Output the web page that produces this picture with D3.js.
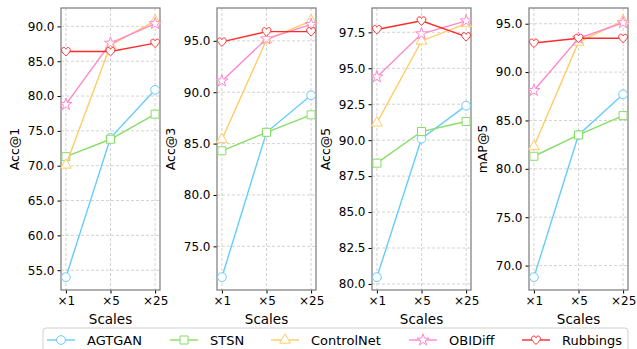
<!DOCTYPE html>
<html>
<head>
<meta charset="utf-8">
<script src="https://cdn.jsdelivr.net/npm/d3@7"></script>
<style>
  body { margin: 0; background: #fff; }
  svg { font-family: "DejaVu Sans", sans-serif; }
</style>
</head>
<body>
<svg id="chart" width="637" height="349"></svg>
<script>
// data
const scales = ['×1', '×5', '×25']
const methods = ['AGTGAN', 'STSN', 'ControlNet', 'OBIDiff', 'Rubbings']
const colors = ['#66ccff', '#88dd66', '#ffcc66', '#ff88cc', '#ff2a2a']

const metrics = ['Acc@1', 'Acc@3', 'Acc@5', 'mAP@5']

const acc1 = [
  [54.0, 74.0, 80.9],
  [71.3, 73.8, 77.4],
  [70.1, 87.3, 90.8],
  [78.8, 87.6, 90.4],
  [86.4, 86.4, 87.6]
]
const acc3 = [
  [72.0, 86.1, 89.7],
  [84.3, 86.1, 87.8],
  [85.4, 95.1, 96.95],
  [91.1, 95.2, 96.6],
  [94.9, 95.9, 95.9]
]
const acc5 = [
  [80.47, 90.1, 92.4],
  [88.4, 90.6, 91.3],
  [91.2, 96.9, 98.1],
  [94.4, 97.4, 98.3],
  [97.7, 98.3, 97.2]
]
const map5 = [
  [68.8, 83.5, 87.7],
  [81.3, 83.5, 85.5],
  [82.3, 93.1, 95.3],
  [88.1, 93.5, 95.1],
  [93.0, 93.5, 93.5]
]
const panelData = [acc1, acc3, acc5, map5]

const yTicks = [
  [55, 60, 65, 70, 75, 80, 85, 90],
  [75, 80, 85, 90, 95],
  [80, 82.5, 85, 87.5, 90, 92.5, 95, 97.5],
  [70, 75, 80, 85, 90, 95]
]

// layout
const panelLefts = [61, 217, 372, 529]
const panelW = 99
const plotTop = 8
const plotBottom = 290

const heart = {
  draw (ctx, size) {
    const r = Math.sqrt(size) / 2
    ctx.moveTo(0, r * 1.0)
    ctx.bezierCurveTo(-r * 0.4, r * 0.6, -r * 1.1, r * 0.1, -r * 1.0, -r * 0.4)
    ctx.bezierCurveTo(-r * 0.9, -r * 1.0, -r * 0.2, -r * 1.1, 0, -r * 0.5)
    ctx.bezierCurveTo(r * 0.2, -r * 1.1, r * 0.9, -r * 1.0, r * 1.0, -r * 0.4)
    ctx.bezierCurveTo(r * 1.1, r * 0.1, r * 0.4, r * 0.6, 0, r * 1.0)
    ctx.closePath()
  }
}
const symbols = [
  d3.symbol(d3.symbolCircle, 60),
  d3.symbol(d3.symbolSquare, 64),
  d3.symbol(d3.symbolTriangle, 50),
  d3.symbol(d3.symbolStar, 44),
  d3.symbol(heart, 78)
]

const svg = d3.select('#chart')

panelData.forEach((series, p) => {
  const left = panelLefts[p]
  const x = d3.scaleLinear().domain([-0.11, 2.11]).range([left, left + panelW])

  const all = series.flat()
  const lo = d3.min(all)
  const hi = d3.max(all)
  const pad = (hi - lo) * 0.05
  const y = d3.scaleLinear().domain([lo - pad, hi + pad]).range([plotBottom, plotTop])

  const g = svg.append('g')

  // grid
  g.append('g')
    .selectAll('line')
    .data([0, 1, 2])
    .join('line')
    .attr('x1', d => x(d)).attr('x2', d => x(d))
    .attr('y1', plotTop).attr('y2', plotBottom)
    .attr('stroke', '#c8c8c8').attr('stroke-width', 0.8)
    .attr('stroke-dasharray', '3,2')
  g.append('g')
    .selectAll('line')
    .data(yTicks[p])
    .join('line')
    .attr('x1', left).attr('x2', left + panelW)
    .attr('y1', d => y(d)).attr('y2', d => y(d))
    .attr('stroke', '#c8c8c8').attr('stroke-width', 0.8)
    .attr('stroke-dasharray', '3,2')

  // axes
  const xAxis = d3.axisBottom(x)
    .tickValues([0, 1, 2])
    .tickFormat(i => scales[i])
    .tickSize(3.5)
    .tickPadding(3)
  const ax = g.append('g').attr('transform', `translate(0,${plotBottom})`).call(xAxis)
  ax.select('.domain').remove()
  ax.selectAll('text').attr('font-size', 12).attr('fill', '#000').attr('font-family', 'DejaVu Sans')

  const yAxis = d3.axisLeft(y)
    .tickValues(yTicks[p])
    .tickFormat(d3.format('.1f'))
    .tickSize(3.5)
    .tickPadding(3)
  const ay = g.append('g').attr('transform', `translate(${left},0)`).call(yAxis)
  ay.select('.domain').remove()
  ay.selectAll('text').attr('font-size', 12).attr('fill', '#000').attr('font-family', 'DejaVu Sans')

  // frame
  g.append('rect')
    .attr('x', left).attr('y', plotTop)
    .attr('width', panelW).attr('height', plotBottom - plotTop)
    .attr('fill', 'none').attr('stroke', '#7a7a7a').attr('stroke-width', 1.2)

  // labels
  g.append('text')
    .attr('transform', `translate(${left - 47},${(plotTop + plotBottom) / 2}) rotate(-90)`)
    .attr('text-anchor', 'middle')
    .attr('dominant-baseline', 'central')
    .attr('font-size', 12.5)
    .text(metrics[p])
  g.append('text')
    .attr('x', left + panelW / 2).attr('y', 319)
    .attr('text-anchor', 'middle')
    .attr('dominant-baseline', 'central')
    .attr('font-size', 13.5)
    .text('Scales')

  // series
  const line = d3.line().x((d, i) => x(i)).y(d => y(d))
  series.forEach((vals, k) => {
    const sg = g.append('g')
    sg.append('path')
      .attr('d', line(vals))
      .attr('fill', 'none')
      .attr('stroke', colors[k])
      .attr('stroke-width', 1.4)
    sg.selectAll('path.m')
      .data(vals)
      .join('path')
      .attr('class', 'm')
      .attr('transform', (d, i) => `translate(${x(i)},${y(d)})`)
      .attr('d', symbols[k]())
      .attr('fill', '#fff')
      .attr('stroke', colors[k])
      .attr('stroke-width', 1)
  })
})

// legend
const legendItems = [47, 170, 271, 409, 522]
const lg = svg.append('g')
lg.append('rect')
  .attr('x', 43).attr('y', 328)
  .attr('width', 585).attr('height', 30)
  .attr('rx', 3)
  .attr('fill', '#fff')
  .attr('stroke', '#d0d0d0')
  .attr('stroke-width', 1)

methods.forEach((name, k) => {
  const lx = legendItems[k]
  const ly = 340
  lg.append('line')
    .attr('x1', lx).attr('x2', lx + 28)
    .attr('y1', ly).attr('y2', ly)
    .attr('stroke', colors[k]).attr('stroke-width', 1.4)
  lg.append('path')
    .attr('transform', `translate(${lx + 14},${ly})`)
    .attr('d', symbols[k]())
    .attr('fill', '#fff')
    .attr('stroke', colors[k])
    .attr('stroke-width', 1)
  lg.append('text')
    .attr('x', lx + 40).attr('y', ly)
    .attr('dominant-baseline', 'central')
    .attr('font-size', 13)
    .text(name)
})
</script>
</body>
</html>
